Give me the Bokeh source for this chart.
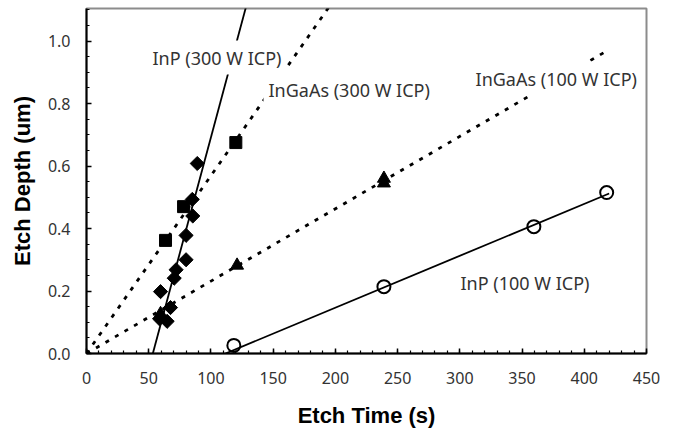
import numpy as np
from bokeh.plotting import figure
from bokeh.models import Range1d, FixedTicker, Label, NumeralTickFormatter
from bokeh.embed import file_html
from bokeh.resources import INLINE

# ---- data ----
inp300_t = [89, 85, 85.4, 80, 80, 72, 70.5, 59.5, 67.5, 58.7, 64.8]
inp300_d = [0.608, 0.493, 0.44, 0.378, 0.30, 0.268, 0.241, 0.198, 0.147, 0.111, 0.103]

ingaas300_t = [63.5, 78, 120]
ingaas300_d = [0.362, 0.47, 0.675]

ingaas100_t = [59.5, 121, 239, 239]
ingaas100_d = [0.127, 0.282, 0.56, 0.545]

inp100_t = [118.4, 239, 359.5, 418]
inp100_d = [0.026, 0.214, 0.406, 0.515]

# trend lines (end points)
inp300_fit_t = [53.3, 131]
inp300_fit_d = [0.0, 1.151]
ingaas300_fit_t = [0, 200]
ingaas300_fit_d = [0.0, 1.138]
ingaas100_fit_t = [0, 418]
ingaas100_fit_d = [0.0, 0.968]
inp100_fit_t = [111.7, 420]
inp100_fit_d = [0.0, 0.512]

x_major = [0, 50, 100, 150, 200, 250, 300, 350, 400, 450]
x_minor = list(range(0, 451, 10))
y_major = [0.0, 0.2, 0.4, 0.6, 0.8, 1.0]
y_minor = [round(0.05 * i, 2) for i in range(0, 23)]

TICK_FONT = "Noto Sans"
TITLE_FONT = "Liberation Sans"

p = figure(frame_width=560, frame_height=345, output_backend="svg",
           toolbar_location=None,
           x_range=Range1d(0, 450), y_range=Range1d(0, 1.104),
           min_border_left=86, min_border_right=14,
           min_border_top=8, min_border_bottom=67)

p.background_fill_color = "white"
p.border_fill_color = "white"
p.outline_line_color = "#8c8c8c"
p.outline_line_width = 2
p.xgrid.visible = False
p.ygrid.visible = False

# trend lines
p.line(inp300_fit_t, inp300_fit_d, line_color="black", line_width=1.8)
p.line(inp100_fit_t, inp100_fit_d, line_color="black", line_width=1.8)
p.line(ingaas300_fit_t, ingaas300_fit_d, line_color="black", line_width=2.8,
       line_dash="4 7")
p.line(ingaas100_fit_t, ingaas100_fit_d, line_color="black", line_width=2.8,
       line_dash="4 7")

# markers
p.scatter(inp300_t, inp300_d, marker="square", angle=np.pi / 4, size=10,
          fill_color="black", line_color="black")
p.scatter(ingaas300_t, ingaas300_d, marker="square", size=12,
          fill_color="black", line_color="black")
p.scatter(ingaas100_t, ingaas100_d, marker="triangle", size=13,
          fill_color="black", line_color="black")
p.scatter(inp100_t, inp100_d, marker="circle", size=13,
          fill_color=None, line_color="black", line_width=2)

# annotations
labels = [
    ("InP (300 W ICP)", 49, 0.947),
    ("InGaAs (300 W ICP)", 142.2, 0.842),
    ("InGaAs (100 W ICP)", 308.6, 0.88),
    ("InP (100 W ICP)", 296.5, 0.227),
]
for txt, lx, ly in labels:
    p.add_layout(Label(x=lx, y=ly, text=txt, text_font=TICK_FONT,
                       text_font_size="18px", text_color="#333333",
                       text_align="left", text_baseline="middle",
                       background_fill_color="white", padding=5))

# axes
for ax in (p.xaxis[0], p.yaxis[0]):
    ax.axis_line_color = "black"
    ax.axis_line_width = 2
    ax.major_tick_in = 5
    ax.major_tick_out = 0
    ax.minor_tick_in = 3
    ax.minor_tick_out = 0
    ax.major_tick_line_color = "black"
    ax.minor_tick_line_color = "black"
    ax.major_tick_line_width = 1.5
    ax.minor_tick_line_width = 1.2
    ax.major_label_text_font = TICK_FONT
    ax.major_label_text_font_size = "16px"
    ax.major_label_text_color = "#333333"
    ax.axis_label_text_font = TITLE_FONT
    ax.axis_label_text_font_style = "bold"
    ax.axis_label_text_font_size = "22px"
    ax.axis_label_text_color = "black"

p.xaxis.ticker = FixedTicker(ticks=x_major, minor_ticks=x_minor)
p.yaxis.ticker = FixedTicker(ticks=y_major, minor_ticks=y_minor)
p.yaxis.formatter = NumeralTickFormatter(format="0.0")
p.xaxis.axis_label = "Etch Time (s)"
p.yaxis.axis_label = "Etch Depth (um)"
p.xaxis.major_label_standoff = 18
p.yaxis.major_label_standoff = 16
p.xaxis.axis_label_standoff = 16
p.yaxis.axis_label_standoff = 10

open("out.html", "w").write(file_html(p, INLINE))
